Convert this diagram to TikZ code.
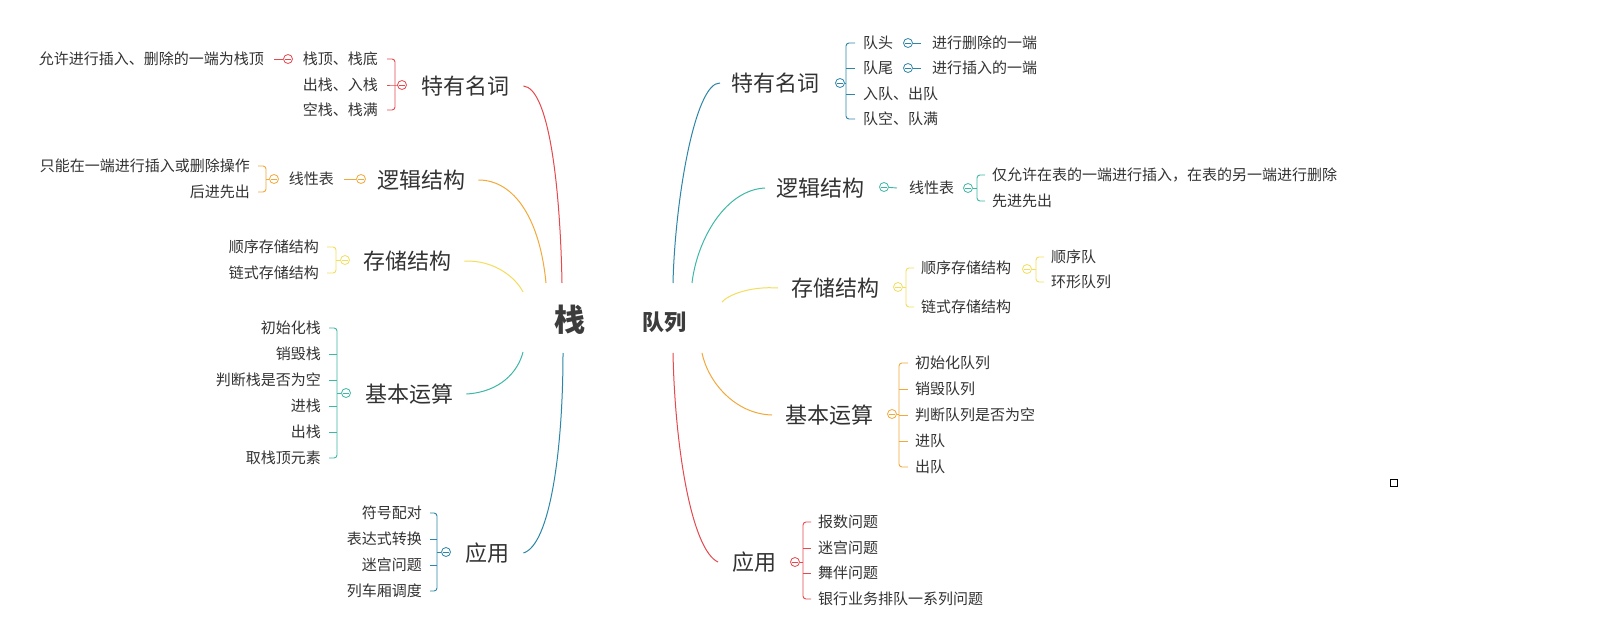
\documentclass[tikz,border=0pt]{standalone}
\usepackage{fontspec}
\setmainfont{Noto Sans CJK SC}
\definecolor{cR}{HTML}{E5484D}
\definecolor{cO}{HTML}{F2A93B}
\definecolor{cY}{HTML}{F3DD5C}
\definecolor{cT}{HTML}{3DB8A6}
\definecolor{cB}{HTML}{2D86A8}
\definecolor{tc}{HTML}{333333}
\definecolor{tc2}{HTML}{3C3C3C}
\tikzset{
  itm/.style={font=\fontsize{15}{18}\selectfont, text=tc, inner sep=0pt},
  lbl/.style={font=\fontsize{22}{26}\selectfont, text=tc, inner sep=0pt},
  knob/.style={circle, draw=#1, fill=white, minimum size=9pt, inner sep=0pt, line width=0.8pt,
    path picture={\draw[#1, line width=0.8pt] ([xshift=-2.6pt]path picture bounding box.center) -- ([xshift=2.6pt]path picture bounding box.center);}},
  brk/.style={draw=#1, line width=0.9pt, rounded corners=3pt},
  mainline/.style={draw=#1, line width=1pt},
}
\begin{document}
\begin{tikzpicture}[x=1pt, y=-1pt]
\useasboundingbox (0,0) rectangle (1603,629);
\fill[white] (0,0) rectangle (1603,629);

% ---------- centre ----------
\node[font=\fontsize{31}{34}\selectfont\bfseries, text=tc2, inner sep=0pt] (S) at (570,320) {栈};
\node[font=\fontsize{22}{26}\selectfont\bfseries, text=tc2, inner sep=0pt] (Q) at (664,322) {队列};
\coordinate (sL1) at (562,283);
\coordinate (sL2) at (546,283);
\coordinate (sL3) at (523,292);
\coordinate (sL4) at (523,352);
\coordinate (sL5) at (563,353);
\coordinate (sR1) at (673,283);
\coordinate (sR2) at (692,283);
\coordinate (sR3) at (722,302);
\coordinate (sR4) at (702,353);
\coordinate (sR5) at (673,353);

% ---------- L1 特有名词 (red) ----------
\node[lbl, anchor=west] (L1) at (421,86) {特有名词};
\node[knob=cR] (L1k) at (402,85) {};
\coordinate (L1b) at (395,85);
\node[itm, anchor=east] (L1a) at (378,59) {栈顶、栈底};
\node[itm, anchor=east] (L1c) at (378,85) {出栈、入栈};
\node[itm, anchor=east] (L1d) at (378,110) {空栈、栈满};
\draw[brk=cR] ([xshift=9pt]L1a.east) -| (L1b) |- ([xshift=9pt]L1d.east);
\draw[brk=cR] ([xshift=9pt]L1c.east) -- (L1b) -- (L1k);
\node[knob=cR] (L1ak) at (288,59) {};
\node[itm, anchor=east] (L1a1) at (264,59) {允许进行插入、删除的一端为栈顶};
\draw[brk=cR] (L1ak) -- ([xshift=10pt]L1a1.east);
\draw[mainline=cR] ([xshift=14pt]L1.east) .. controls (548,88) and (560,180) .. (sL1);

% ---------- L2 逻辑结构 (orange) ----------
\node[lbl, anchor=west] (L2) at (377,180) {逻辑结构};
\node[knob=cO] (L2k) at (361,179) {};
\node[itm, anchor=east] (L2l) at (334,179) {线性表};
\draw[brk=cO] (L2k) -- ([xshift=10pt]L2l.east);
\node[knob=cO] (L2lk) at (274,179) {};
\coordinate (L2b) at (266,179);
\node[itm, anchor=east] (L2a) at (250,166) {只能在一端进行插入或删除操作};
\node[itm, anchor=east] (L2c) at (250,192) {后进先出};
\draw[brk=cO] ([xshift=8pt]L2a.east) -| (L2b) |- ([xshift=8pt]L2c.east);
\draw[brk=cO] (L2b) -- (L2lk);
\draw[mainline=cO] ([xshift=13pt]L2.east) .. controls (515,180) and (540,220) .. (sL2);

% ---------- L3 存储结构 (yellow) ----------
\node[lbl, anchor=west] (L3) at (363,261) {存储结构};
\node[knob=cY] (L3k) at (345,260) {};
\coordinate (L3b) at (336,260);
\node[itm, anchor=east] (L3a) at (319,247) {顺序存储结构};
\node[itm, anchor=east] (L3c) at (319,273) {链式存储结构};
\draw[brk=cY] ([xshift=8pt]L3a.east) -| (L3b) |- ([xshift=8pt]L3c.east);
\draw[brk=cY] (L3b) -- (L3k);
\draw[mainline=cY] ([xshift=13pt]L3.east) .. controls (495,260) and (516,278) .. (sL3);

% ---------- L4 基本运算 (teal) ----------
\node[lbl, anchor=west] (L4) at (365,394) {基本运算};
\node[knob=cT] (L4k) at (346,393) {};
\coordinate (L4b) at (337,393);
\node[itm, anchor=east] (L4a) at (321,328) {初始化栈};
\node[itm, anchor=east] (L4c) at (321,354) {销毁栈};
\node[itm, anchor=east] (L4d) at (321,380) {判断栈是否为空};
\node[itm, anchor=east] (L4e) at (321,406) {进栈};
\node[itm, anchor=east] (L4f) at (321,432) {出栈};
\node[itm, anchor=east] (L4g) at (321,458) {取栈顶元素};
\draw[brk=cT] ([xshift=8pt]L4a.east) -| (L4b) |- ([xshift=8pt]L4g.east);
\foreach \n in {L4c,L4d,L4e,L4f} \draw[brk=cT] (L4b |- \n.east) -- ([xshift=8pt]\n.east);
\draw[brk=cT] (L4b) -- (L4k);
\draw[mainline=cT] ([xshift=13pt]L4.east) .. controls (500,392) and (518,372) .. (sL4);

% ---------- L5 应用 (blue) ----------
\node[lbl, anchor=west] (L5) at (465,553) {应用};
\node[knob=cB] (L5k) at (446,552) {};
\coordinate (L5b) at (437,552);
\node[itm, anchor=east] (L5a) at (422,513) {符号配对};
\node[itm, anchor=east] (L5c) at (422,539) {表达式转换};
\node[itm, anchor=east] (L5d) at (422,565) {迷宫问题};
\node[itm, anchor=east] (L5e) at (422,591) {列车厢调度};
\draw[brk=cB] ([xshift=8pt]L5a.east) -| (L5b) |- ([xshift=8pt]L5e.east);
\foreach \n in {L5c,L5d} \draw[brk=cB] (L5b |- \n.east) -- ([xshift=8pt]\n.east);
\draw[brk=cB] (L5b) -- (L5k);
\draw[mainline=cB] ([xshift=14pt]L5.east) .. controls (550,545) and (563,450) .. (sL5);

% ---------- R1 特有名词 (blue) ----------
\node[lbl, anchor=west] (R1) at (731,83) {特有名词};
\node[knob=cB] (R1k) at (840,83) {};
\coordinate (R1b) at (846,83);
\node[itm, anchor=west] (R1a) at (863,43) {队头};
\node[itm, anchor=west] (R1c) at (863,68) {队尾};
\node[itm, anchor=west] (R1d) at (863,94) {入队、出队};
\node[itm, anchor=west] (R1e) at (863,119) {队空、队满};
\draw[brk=cB] ([xshift=-8pt]R1a.west) -| (R1b) |- ([xshift=-8pt]R1e.west);
\foreach \n in {R1c,R1d} \draw[brk=cB] (R1b |- \n.west) -- ([xshift=-8pt]\n.west);
\draw[brk=cB] (R1b) -- (R1k);
\node[knob=cB] (R1ak) at (908,43) {};
\node[itm, anchor=west] (R1a1) at (932,43) {进行删除的一端};
\draw[brk=cB] (R1ak) -- ([xshift=-11pt]R1a1.west);
\node[knob=cB] (R1ck) at (908,68) {};
\node[itm, anchor=west] (R1c1) at (932,68) {进行插入的一端};
\draw[brk=cB] (R1ck) -- ([xshift=-11pt]R1c1.west);
\draw[mainline=cB] ([xshift=-11pt]R1.west) .. controls (695,82) and (675,200) .. (sR1);

% ---------- R2 逻辑结构 (teal) ----------
\node[lbl, anchor=west] (R2) at (776,188) {逻辑结构};
\node[knob=cT] (R2k) at (884,187) {};
\node[itm, anchor=west] (R2l) at (909,188) {线性表};
\draw[brk=cT] (R2k) -- ([xshift=-12pt]R2l.west);
\node[knob=cT] (R2lk) at (968,188) {};
\coordinate (R2b) at (977,188);
\node[itm, anchor=west] (R2a) at (992,175) {仅允许在表的一端进行插入，在表的另一端进行删除};
\node[itm, anchor=west] (R2c) at (992,201) {先进先出};
\draw[brk=cT] ([xshift=-7pt]R2a.west) -| (R2b) |- ([xshift=-7pt]R2c.west);
\draw[brk=cT] (R2b) -- (R2lk);
\draw[mainline=cT] ([xshift=-11pt]R2.west) .. controls (725,190) and (697,240) .. (sR2);

% ---------- R3 存储结构 (yellow) ----------
\node[lbl, anchor=west] (R3) at (791,288) {存储结构};
\node[knob=cY] (R3k) at (898,287) {};
\coordinate (R3b) at (906,287);
\node[itm, anchor=west] (R3a) at (921,268) {顺序存储结构};
\node[itm, anchor=west] (R3c) at (921,307) {链式存储结构};
\draw[brk=cY] ([xshift=-7pt]R3a.west) -| (R3b) |- ([xshift=-7pt]R3c.west);
\draw[brk=cY] (R3b) -- (R3k);
\node[knob=cY] (R3ak) at (1027,269) {};
\coordinate (R3ab) at (1036,269);
\node[itm, anchor=west] (R3a1) at (1051,257) {顺序队};
\node[itm, anchor=west] (R3a2) at (1051,282) {环形队列};
\draw[brk=cY] ([xshift=-7pt]R3a1.west) -| (R3ab) |- ([xshift=-7pt]R3a2.west);
\draw[brk=cY] (R3ab) -- (R3ak);
\draw[mainline=cY] ([xshift=-13pt]R3.west) .. controls (750,286) and (728,295) .. (sR3);

% ---------- R4 基本运算 (orange) ----------
\node[lbl, anchor=west] (R4) at (785,415) {基本运算};
\node[knob=cO] (R4k) at (892,414) {};
\coordinate (R4b) at (899,414);
\node[itm, anchor=west] (R4a) at (915,363) {初始化队列};
\node[itm, anchor=west] (R4c) at (915,389) {销毁队列};
\node[itm, anchor=west] (R4d) at (915,415) {判断队列是否为空};
\node[itm, anchor=west] (R4e) at (915,441) {进队};
\node[itm, anchor=west] (R4f) at (915,467) {出队};
\draw[brk=cO] ([xshift=-7pt]R4a.west) -| (R4b) |- ([xshift=-7pt]R4f.west);
\foreach \n in {R4c,R4d,R4e} \draw[brk=cO] (R4b |- \n.west) -- ([xshift=-7pt]\n.west);
\draw[brk=cO] (R4b) -- (R4k);
\draw[mainline=cO] ([xshift=-13pt]R4.west) .. controls (735,414) and (708,382) .. (sR4);

% ---------- R5 应用 (red) ----------
\node[lbl, anchor=west] (R5) at (732,562) {应用};
\node[knob=cR] (R5k) at (795,562) {};
\coordinate (R5b) at (803,562);
\node[itm, anchor=west] (R5a) at (818,522) {报数问题};
\node[itm, anchor=west] (R5c) at (818,548) {迷宫问题};
\node[itm, anchor=west] (R5d) at (818,573) {舞伴问题};
\node[itm, anchor=west] (R5e) at (818,599) {银行业务排队一系列问题};
\draw[brk=cR] ([xshift=-7pt]R5a.west) -| (R5b) |- ([xshift=-7pt]R5e.west);
\foreach \n in {R5c,R5d} \draw[brk=cR] (R5b |- \n.west) -- ([xshift=-7pt]\n.west);
\draw[brk=cR] (R5b) -- (R5k);
\draw[mainline=cR] ([xshift=-14pt]R5.west) .. controls (692,550) and (675,450) .. (sR5);

% ---------- small square ----------
\node[draw=black, line width=1.2pt, minimum size=7pt, inner sep=0pt] (sq) at (1394,483) {};
\end{tikzpicture}
\end{document}
